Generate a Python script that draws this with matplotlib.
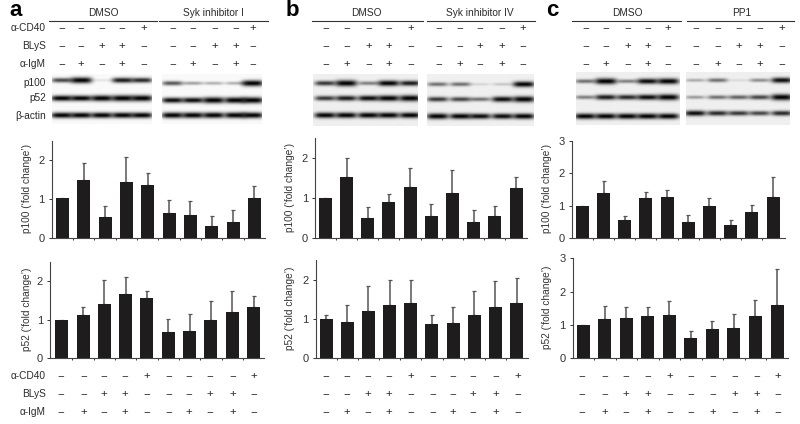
import numpy as np
import matplotlib
matplotlib.use('Agg')
import matplotlib.pyplot as plt
from matplotlib.lines import Line2D

plt.rcParams['font.family'] = ['Liberation Sans', 'DejaVu Sans']

W, H = 800, 424
TXT = '#2b2b2b'

# bar values (nan = no error bar)
a_p100 = [1.03, 1.48, 0.55, 1.45, 1.36, 0.64, 0.58, 0.30, 0.40, 1.02]
a_p100_top = [np.nan, 1.92, 0.83, 2.08, 1.67, 0.98, 0.95, 0.57, 0.72, 1.34]
a_p52 = [1.00, 1.12, 1.41, 1.67, 1.57, 0.67, 0.71, 1.00, 1.20, 1.32]
a_p52_top = [np.nan, 1.33, 2.03, 2.11, 1.74, 1.02, 1.15, 1.48, 1.74, 1.60]
b_p100 = [1.00, 1.53, 0.51, 0.90, 1.27, 0.56, 1.12, 0.40, 0.55, 1.24]
b_p100_top = [np.nan, 2.00, 0.78, 1.09, 1.74, 0.85, 1.69, 0.69, 0.80, 1.52]
b_p52 = [1.00, 0.92, 1.20, 1.36, 1.40, 0.88, 0.90, 1.10, 1.30, 1.40]
b_p52_top = [1.10, 1.36, 1.84, 2.00, 2.00, 1.09, 1.30, 1.70, 1.97, 2.05]
c_p100 = [1.00, 1.38, 0.57, 1.23, 1.28, 0.49, 1.00, 0.39, 0.80, 1.26]
c_p100_top = [np.nan, 1.75, 0.69, 1.43, 1.49, 0.72, 1.25, 0.55, 1.01, 1.90]
c_p52 = [1.00, 1.17, 1.20, 1.25, 1.30, 0.59, 0.86, 0.89, 1.26, 1.60]
c_p52_top = [np.nan, 1.56, 1.52, 1.53, 1.73, 0.82, 1.10, 1.32, 1.74, 2.68]

# treatment rows, same in every panel
cd40 = ['−', '−', '−', '−', '+', '−', '−', '−', '−', '+']
blys = ['−', '−', '+', '+', '−', '−', '−', '+', '+', '−']
igm = ['−', '+', '−', '+', '−', '−', '+', '−', '+', '−']
row_names = ['α-CD40', 'BLyS', 'α-IgM']
blot_names = ['p100', 'p52', 'β-actin']

# blot band strength, lanes by row (p100, p52, actin)
a_dmso = [[.60, .95, .08, .75, .70], [.85, .85, .95, 1, 1], [.85, .85, .85, .85, .85]]
a_syk = [[.55, .30, .25, .25, .95], [.80, .80, 1, .95, 1], [.90, .90, .90, .90, .90]]
b_dmso = [[.65, 1, .40, .85, .75], [.65, .75, .80, .90, 1], [.85, .85, .85, .85, .85]]
b_syk = [[.45, .45, .10, .15, .85], [.65, .60, .45, .80, .95], [.90, .85, .80, .80, .85]]
c_dmso = [[.45, .95, .40, .80, .90], [.40, .75, .70, .80, .95], [.85, .85, .85, .85, .85]]
c_pp1 = [[.25, .45, .08, .35, .80], [.30, .45, .50, .60, 1], [.80, .70, .65, .60, .70]]


def px_text(fig, x, y, s, **kw):
    kw.setdefault('color', TXT)
    kw.setdefault('fontsize', 7.3)
    kw.setdefault('ha', 'center')
    kw.setdefault('va', 'center')
    return fig.text(x / W, 1 - y / H, s, **kw)


def px_axes(fig, left, right, top, bottom):
    return fig.add_axes([left / W, 1 - bottom / H, (right - left) / W, (bottom - top) / H])


def draw_blot(fig, box, lanes, rows, strength, bg):
    left, right, top, bottom = box
    xx, yy = np.meshgrid(np.arange(left, right, 0.5), np.arange(top, bottom, 0.5))
    img = np.full(xx.shape, bg)
    for r, cy in enumerate(rows):
        for lane, cx in enumerate(lanes):
            s = strength[r][lane]
            sig = 1.1 + 2.0 * s
            half = 9.5 + 1.5 * s
            band = np.exp(-((yy - cy) / sig) ** 2) * np.exp(-((xx - cx) / half) ** 4)
            img = img * (1 - min(1.0, s * 1.2) * band)
    ax = px_axes(fig, left, right, top, bottom)
    ax.imshow(img, cmap='gray', vmin=0, vmax=1, aspect='auto', interpolation='bilinear')
    ax.axis('off')


def draw_bars(fig, box, centers, vals, tops, ymax, yticks, ylabel, label_x):
    left, right, y_top, y0 = box
    n = len(vals)
    step = (centers[-1] - centers[0]) / (n - 1)
    ax = px_axes(fig, left, right, y_top, y0)
    x = np.arange(n)
    ax.bar(x, vals, width=13 / step, color='#1e1c1d', linewidth=0, zorder=2)
    vals = np.array(vals)
    tops = np.array(tops)
    ax.errorbar(x, vals, yerr=[np.zeros(n), tops - vals], fmt='none', ecolor='#555555',
                elinewidth=1.1, capsize=1.1, capthick=0.9, zorder=1)
    ax.set_xlim((left - centers[0]) / step, (right - centers[0]) / step)
    ax.set_ylim(0, ymax)
    ax.set_yticks(yticks)
    ax.set_xticks(x[:-1] + 0.5)
    ax.set_xticklabels([])
    ax.tick_params(axis='x', length=1.5, width=0.7, color='#333333', direction='out')
    ax.tick_params(axis='y', length=2, width=0.7, color='#333333', labelsize=8,
                   labelcolor='#333333', pad=3)
    for side in ['top', 'right']:
        ax.spines[side].set_visible(False)
    for side in ['left', 'bottom']:
        ax.spines[side].set_linewidth(0.8)
        ax.spines[side].set_color('#444444')
    ax.patch.set_alpha(0)
    px_text(fig, label_x, (y_top + y0) / 2 - 1, ylabel, rotation=90, color='#333333')


def sign_rows(fig, xs, ys):
    for marks, y in zip([cd40, blys, igm], ys):
        for x, m in zip(xs, marks):
            px_text(fig, x, y, m, fontsize=8.2)


def third(vals, off=0):
    return [off + v / 3 for v in vals]


fig = plt.figure(figsize=(W / 100, H / 100), dpi=100, facecolor='white')

# panel letters
px_text(fig, 16, 10, 'a', fontsize=16, fontweight='bold', color='black')
px_text(fig, 292, 10, 'b', fontsize=16, fontweight='bold', color='black')
px_text(fig, 552, 10, 'c', fontsize=16, fontweight='bold', color='black')

# group headers with rule below
headers = [('DMSO', 103, 49, 157), ('Syk inhibitor I', 213, 159, 268),
           ('DMSO', 366, 312, 423), ('Syk inhibitor IV', 480, 427, 535),
           ('DMSO', 627, 572, 681), ('PP1', 742, 687, 794)]
for name, cx, x0, x1 in headers:
    px_text(fig, cx, 12.5, name)
    fig.add_artist(Line2D([x0 / W, x1 / W], [1 - 21 / H, 1 - 21 / H], color='#333333', lw=0.8))

# row names, top and bottom
for name, y_top, y_bot in zip(row_names, [28, 46, 64], [376, 394, 412]):
    px_text(fig, 46, y_top, name, ha='right')
    px_text(fig, 46, y_bot, name, ha='right')
for name, y in zip(blot_names, [83, 98, 116]):
    px_text(fig, 46, y, name, ha='right')

# treatment signs
sign_rows(fig, third([185, 241, 305, 366, 431, 518, 577, 643, 706, 758]), [28, 46, 64])
sign_rows(fig, third([136, 200, 267, 327, 391, 475, 539, 598, 666, 729], 280), [28, 46, 64])
sign_rows(fig, third([137, 196, 262, 322, 384, 467, 532, 596, 658, 725], 540), [28, 46, 64])
sign_rows(fig, third([182, 250, 310, 373, 439, 505, 567, 630, 698, 761]), [376, 394, 412])
sign_rows(fig, third([136, 200, 263, 326, 392, 457, 518, 579, 647, 714], 280), [376, 394, 412])
sign_rows(fig, third([126, 194, 258, 322, 389, 453, 518, 585, 649, 713], 540), [376, 394, 412])

# blots
draw_blot(fig, (52, 152, 74, 124), third([185, 243, 305, 367, 425]), [80, 98, 115], a_dmso, 0.98)
draw_blot(fig, (162, 262, 74, 124), third([517, 578, 640, 705, 757]), [83, 100, 115], a_syk, 0.98)
draw_blot(fig, (313, 418, 74, 126), third([135, 198, 265, 325, 390], 280), [83, 98, 115], b_dmso, 0.94)
draw_blot(fig, (427, 533, 74, 126), third([472, 540, 598, 665, 728], 280), [84, 99, 116], b_syk, 0.94)
draw_blot(fig, (576, 680, 72, 125), third([135, 197, 261, 322, 384], 540), [81, 97, 116], c_dmso, 0.94)
draw_blot(fig, (686, 790, 72, 125), third([465, 532, 595, 658, 725], 540), [80, 97, 113], c_pp1, 0.94)

# bar charts
draw_bars(fig, (51.7, 265, 140.7, 238), third([187, 252, 315, 378, 443, 507, 571, 633, 696, 763]),
          a_p100, a_p100_top, 2.5, [0, 1, 2], 'p100 (‘fold change’)', 27)
draw_bars(fig, (50, 264, 261.7, 358.3), third([185, 250, 314, 377, 442, 507, 570, 632, 695, 761]),
          a_p52, a_p52_top, 2.5, [0, 1, 2], 'p52 (‘fold change’)', 27)
draw_bars(fig, (315, 527, 138, 238), third([136, 200, 264, 328, 392, 456, 520, 582, 646, 708], 280),
          b_p100, b_p100_top, 2.5, [0, 1, 2], 'p100 (‘fold change’)', 290)
draw_bars(fig, (315.7, 528, 260, 358), third([138, 202, 266, 330, 393, 457, 521, 584, 648, 710], 280),
          b_p52, b_p52_top, 2.5, [0, 1, 2], 'p52 (‘fold change’)', 290)
draw_bars(fig, (571.7, 785, 141, 238), third([127, 192, 256, 319, 383, 447, 511, 573, 637, 699], 540),
          c_p100, c_p100_top, 3, [0, 1, 2, 3], 'p100 (‘fold change’)', 547)
draw_bars(fig, (572.7, 788, 258.3, 358), third([130, 195, 258, 321, 389, 452, 518, 584, 648, 711], 540),
          c_p52, c_p52_top, 3, [0, 1, 2, 3], 'p52 (‘fold change’)', 547)

fig.savefig('out.png', dpi=100)
